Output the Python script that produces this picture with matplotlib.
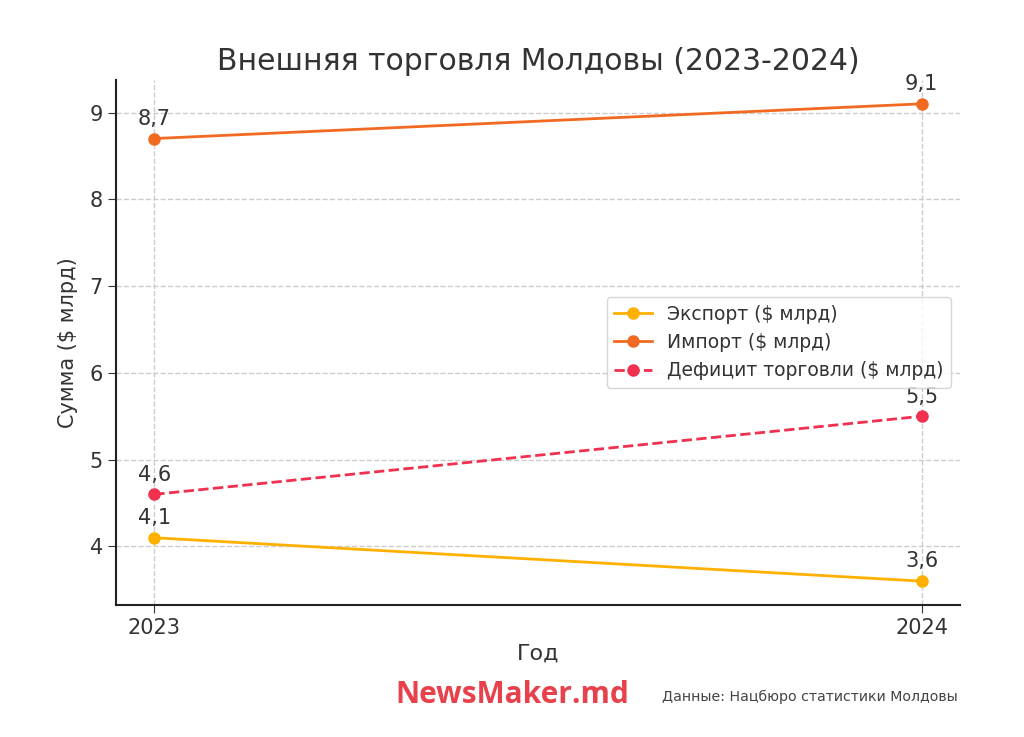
import matplotlib
matplotlib.use("Agg")
import matplotlib.pyplot as plt

years = [2023, 2024]
export = [4.1, 3.6]
imports = [8.7, 9.1]
deficit = [4.6, 5.5]

c_export = "#FFB000"
c_import = "#F26A21"
c_deficit = "#F0304E"
text_col = "#333333"

fig = plt.figure(figsize=(10.24, 7.37), dpi=100)
fig.set_facecolor("white")
ax = fig.add_axes([0.1133, 0.1791, 0.8242, 0.7124])

ax.plot(years, export, color=c_export, linewidth=2, marker="o", markersize=8, label="Экспорт ($ млрд)")
ax.plot(years, imports, color=c_import, linewidth=2, marker="o", markersize=8, label="Импорт ($ млрд)")
ax.plot(years, deficit, color=c_deficit, linewidth=2, marker="o", markersize=8, linestyle="--", label="Дефицит торговли ($ млрд)")

for series in (export, imports, deficit):
    for x, y in zip(years, series):
        ax.annotate(str(y).replace(".", ","), (x, y), xytext=(0, 7), textcoords="offset points",
                    ha="center", va="bottom", fontsize=15, color=text_col)

ax.set_xticks(years)
ax.set_xticklabels([str(y) for y in years])
ax.tick_params(labelsize=15, colors=text_col, length=6)
ax.spines["top"].set_visible(False)
ax.spines["right"].set_visible(False)
ax.spines["left"].set_linewidth(1.5)
ax.spines["bottom"].set_linewidth(1.5)
ax.spines["left"].set_color("#222222")
ax.spines["bottom"].set_color("#222222")
ax.grid(True, linestyle="--", color="#cccccc", linewidth=1)

ax.set_title("Внешняя торговля Молдовы (2023-2024)", fontsize=21.5, color=text_col, pad=7)
ax.set_xlabel("Год", fontsize=16, color=text_col, labelpad=4)
ax.set_ylabel("Сумма ($ млрд)", fontsize=15, color=text_col, labelpad=8)

leg = ax.legend(loc="center right", fontsize=13.5, frameon=True)
for t in leg.get_texts():
    t.set_color(text_col)

fig.text(0.5, 0.057, "NewsMaker.md", fontsize=21.5, fontweight="bold", color="#E8414B",
         ha="center", va="center", family="Open Sans")
fig.text(0.935, 0.054, "Данные: Нацбюро статистики Молдовы", fontsize=10.2, color="#444444",
         ha="right", va="center")

fig.savefig("out.png", dpi=100, facecolor="white")
